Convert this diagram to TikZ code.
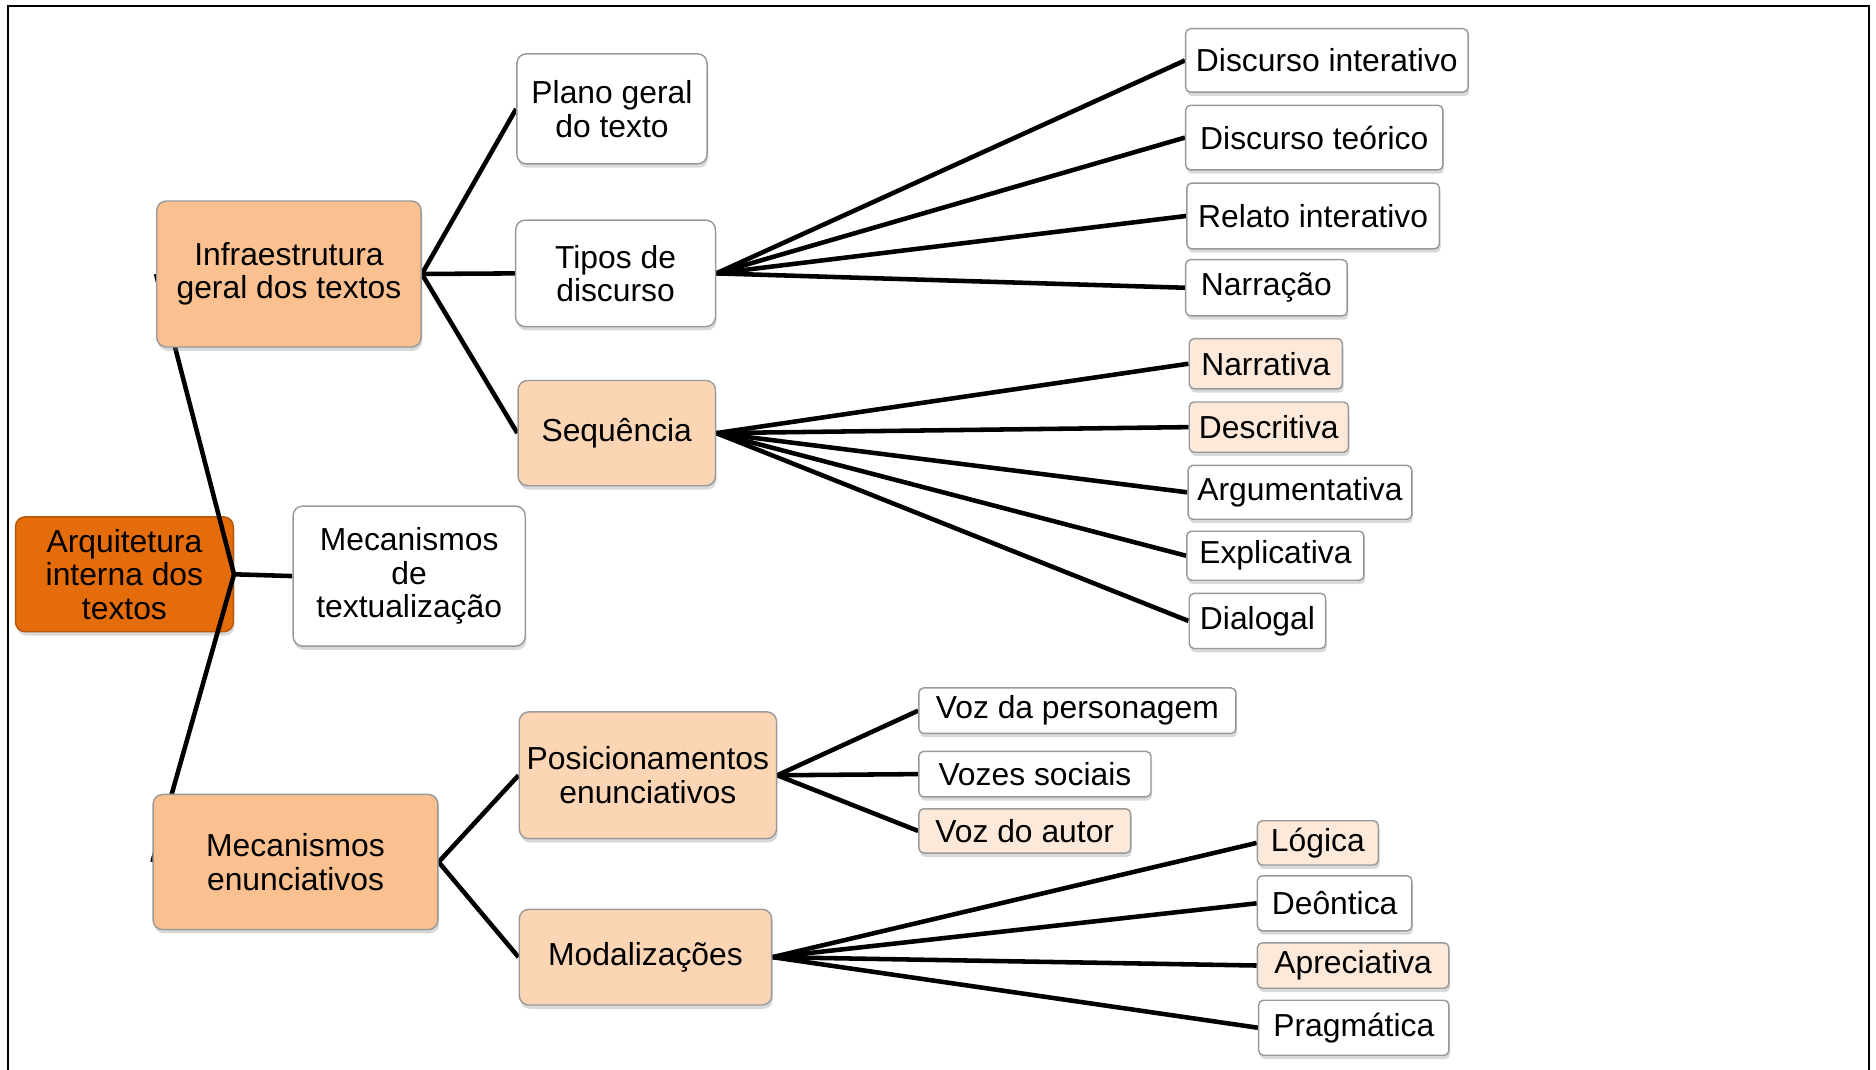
\documentclass[tikz,border=0pt]{standalone}
\usepackage{fontspec}
\setmainfont{Liberation Sans}
\usetikzlibrary{shadows,backgrounds}

\definecolor{laranja}{HTML}{E46C0A}
\definecolor{pessego}{HTML}{FAC090}
\definecolor{salmao}{HTML}{FCD5B5}
\definecolor{creme}{HTML}{FDE9D9}

\tikzset{
	caixa/.style={draw=black!40, line width=0.6pt, rounded corners=4pt, align=center, inner sep=0pt,
		font=\fontsize{13.3}{14}\selectfont,
		drop shadow={shadow xshift=0.5pt, shadow yshift=-1.6pt, opacity=0.3}},
	folha/.style={caixa, rounded corners=2pt},
	ligacao/.style={line width=1.9pt, black}
}

\begin{document}
\begin{tikzpicture}[x=50pt, y=50pt]
		\useasboundingbox (0, 0) rectangle (15.68, -8.94);
		\draw[line width=0.8pt] (0.07, -8.94) |- (15.62, -0.05) -- (15.62, -8.94);

		\begin{scope}[on background layer]
		\node[caixa, fill=laranja, draw=laranja!80!black, minimum width=91pt, minimum height=48pt] at (1.04, -4.80) (arq) {Arquitetura\\interna dos\\textos};
		\end{scope}

		% segundo nivel
		\node[caixa, fill=pessego, minimum width=110.5pt, minimum height=61pt] at (2.415, -2.29) (infra) {Infraestrutura\\geral dos textos};
		\node[caixa, fill=white, minimum width=97pt, minimum height=58.5pt] at (3.42, -4.815) (textual) {Mecanismos\\de\\textualização};
		\node[caixa, fill=pessego, minimum width=119pt, minimum height=56.5pt] at (2.47, -7.205) (enunc) {Mecanismos\\enunciativos};

		% terceiro nivel
		\node[caixa, fill=white, minimum width=79.5pt, minimum height=46pt] at (5.115, -0.91) (plano) {Plano geral\\do texto};
		\node[caixa, fill=white, minimum width=83.5pt, minimum height=44.5pt] at (5.145, -2.285) (tipos) {Tipos de\\discurso};
		\node[caixa, fill=salmao, minimum width=82.5pt, minimum height=44pt] at (5.155, -3.62) (seq) {Sequência};
		\node[caixa, fill=salmao, minimum width=107.5pt, minimum height=53pt] at (5.415, -6.48) (posic) {Posicionamentos\\enunciativos};
		\node[caixa, fill=salmao, minimum width=105.5pt, minimum height=40pt] at (5.395, -8.00) (modal) {Modalizações};

		% folhas
		\node[folha, fill=white, minimum width=118pt, minimum height=26.5pt] at (11.09, -0.505) (dint) {Discurso interativo};
		\node[folha, fill=white, minimum width=107.5pt, minimum height=27pt] at (10.985, -1.15) (dteo) {Discurso teórico};
		\node[folha, fill=white, minimum width=105.5pt, minimum height=27.5pt] at (10.975, -1.805) (rint) {Relato interativo};
		\node[folha, fill=white, minimum width=67.5pt, minimum height=23.5pt] at (10.585, -2.405) (narr) {Narração};

		\node[folha, fill=creme, minimum width=64pt, minimum height=21pt] at (10.58, -3.04) (narrat) {Narrativa};
		\node[folha, fill=creme, minimum width=66.5pt, minimum height=21pt] at (10.605, -3.57) (descr) {Descritiva};
		\node[folha, fill=white, minimum width=93.5pt, minimum height=22.5pt] at (10.865, -4.115) (argum) {Argumentativa};
		\node[folha, fill=white, minimum width=74pt, minimum height=20.5pt] at (10.66, -4.645) (expl) {Explicativa};
		\node[folha, fill=white, minimum width=57pt, minimum height=23pt] at (10.51, -5.19) (dial) {Dialogal};

		\node[folha, fill=white, minimum width=132.5pt, minimum height=19pt] at (9.005, -5.94) (vpers) {Voz da personagem};
		\node[folha, fill=white, minimum width=97pt, minimum height=19pt] at (8.65, -6.47) (vsoc) {Vozes sociais};
		\node[folha, fill=creme, minimum width=88.5pt, minimum height=18.5pt] at (8.565, -6.945) (vaut) {Voz do autor};

		\node[folha, fill=creme, minimum width=50.5pt, minimum height=18.5pt] at (11.015, -7.045) (logi) {Lógica};
		\node[folha, fill=white, minimum width=64.5pt, minimum height=23pt] at (11.155, -7.55) (deon) {Deôntica};
		\node[folha, fill=creme, minimum width=80pt, minimum height=19pt] at (11.31, -8.07) (apre) {Apreciativa};
		\node[folha, fill=white, minimum width=79.5pt, minimum height=23pt] at (11.315, -8.59) (prag) {Pragmática};

		% draw edges
		\begin{scope}[on background layer]
		\draw[ligacao] (arq.east) -- (infra.west);
		\draw[ligacao] (arq.east) -- (textual.west);
		\draw[ligacao] (arq.east) -- (enunc.west);

		\draw[ligacao] (infra.east) -- (plano.west);
		\draw[ligacao] (infra.east) -- (tipos.west);
		\draw[ligacao] (infra.east) -- (seq.west);

		\draw[ligacao] (enunc.east) -- (posic.west);
		\draw[ligacao] (enunc.east) -- (modal.west);

		\foreach \f in {dint, dteo, rint, narr}
			\draw[ligacao] (tipos.east) -- (\f.west);
		\foreach \f in {narrat, descr, argum, expl, dial}
			\draw[ligacao] (seq.east) -- (\f.west);
		\foreach \f in {vpers, vsoc, vaut}
			\draw[ligacao] (posic.east) -- (\f.west);
		\foreach \f in {logi, deon, apre, prag}
			\draw[ligacao] (modal.east) -- (\f.west);
		\end{scope}
\end{tikzpicture}
\end{document}
